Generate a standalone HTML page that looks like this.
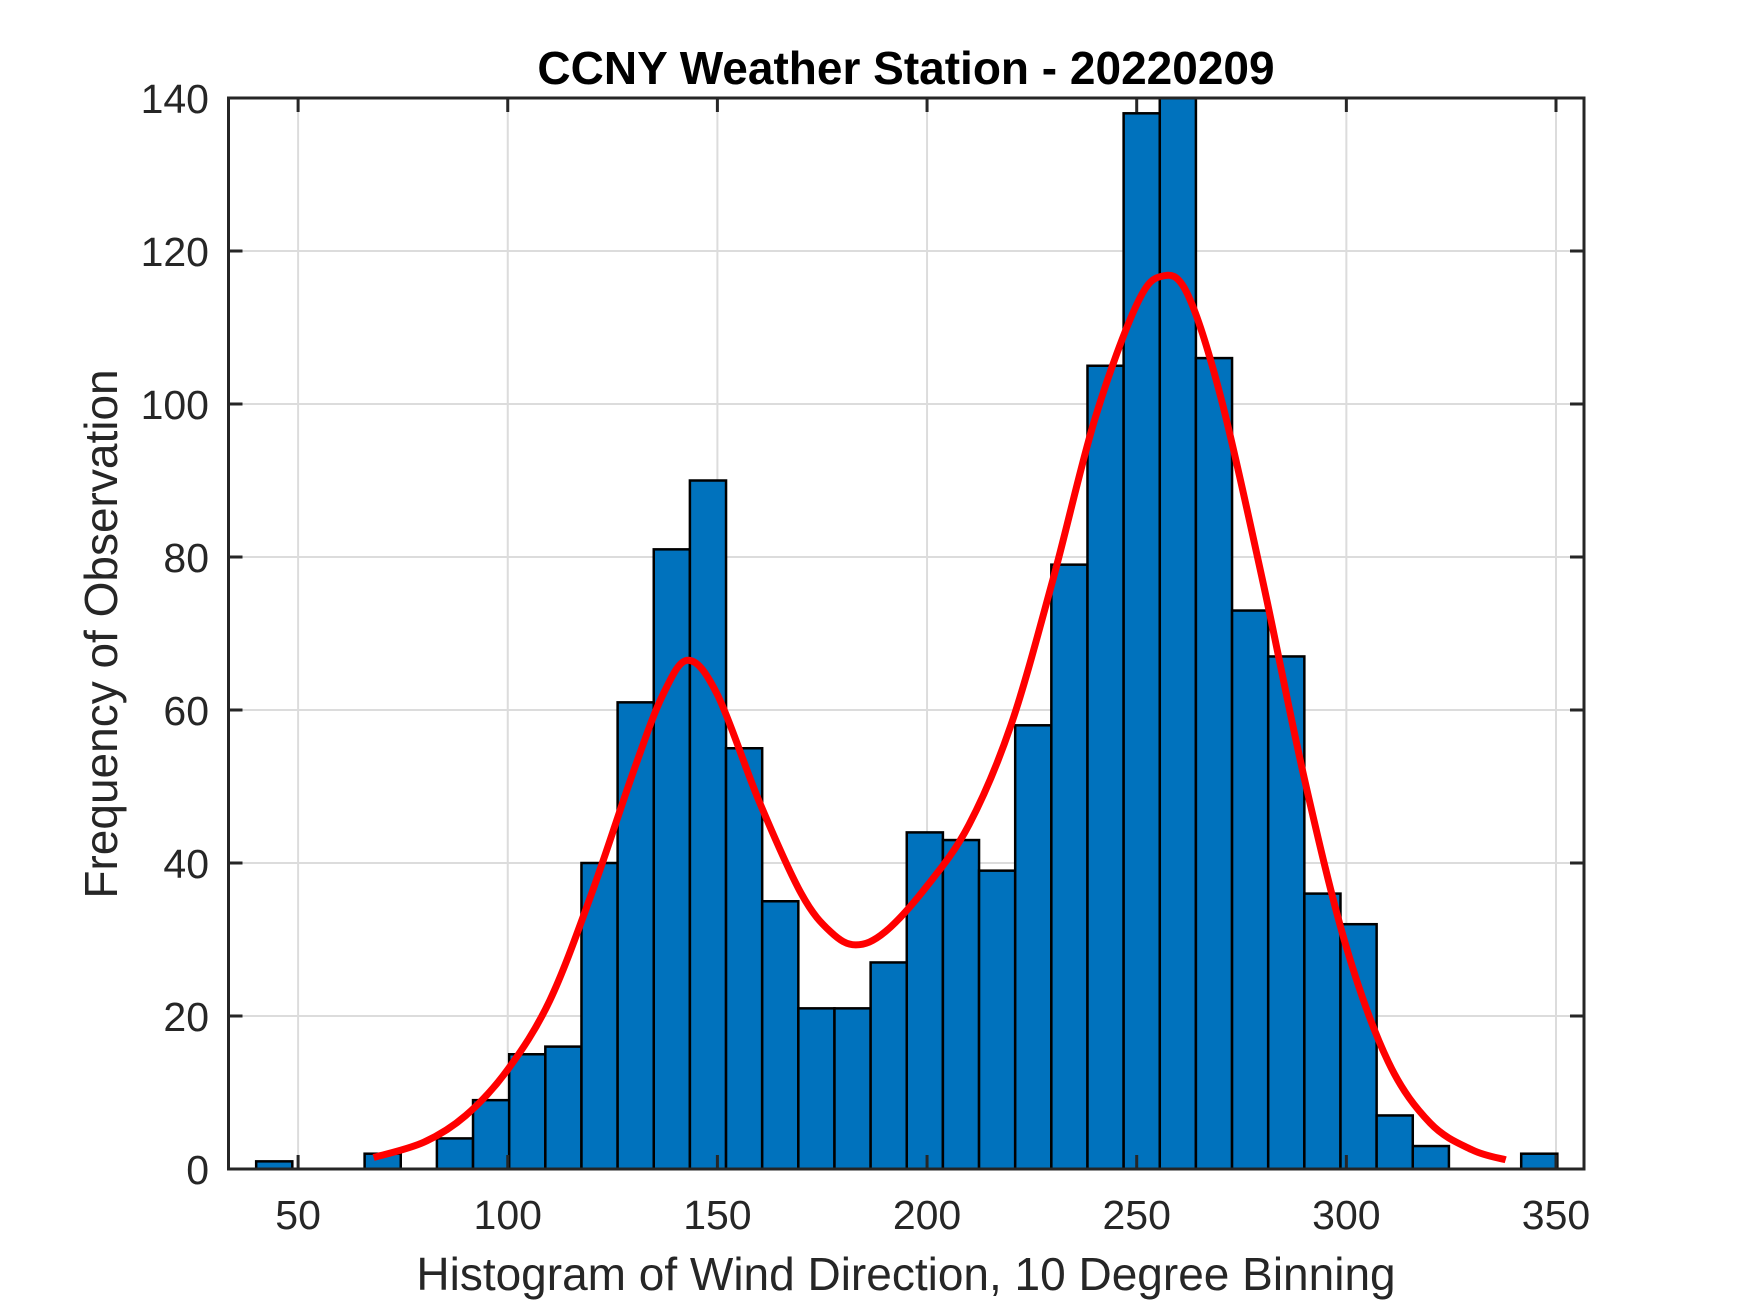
<!DOCTYPE html>
<html><head><meta charset="utf-8"><style>
html,body{margin:0;padding:0;background:#fff;}
svg{display:block;font-family:"Liberation Sans",Arial,sans-serif;}
</style></head><body>
<svg id="chart" width="1750" height="1313" viewBox="0 0 1750 1313" xmlns="http://www.w3.org/2000/svg">
<defs><clipPath id="plotclip"><rect x="228.5" y="98" width="1355.5" height="1071"/></clipPath></defs>
<rect x="0" y="0" width="1750" height="1313" fill="#fff"/>
<g id="grid"></g>
<g id="bars" clip-path="url(#plotclip)"></g>
<g id="curve" clip-path="url(#plotclip)"></g>
<g id="axes"></g>
<text x="906" y="84" text-anchor="middle" font-size="46" font-weight="bold" fill="#000">CCNY Weather Station - 20220209</text>
<text x="906" y="1290" text-anchor="middle" font-size="46" fill="#262626">Histogram of Wind Direction, 10 Degree Binning</text>
<text transform="translate(117,634) rotate(-90)" text-anchor="middle" font-size="46" fill="#262626">Frequency of Observation</text>
</svg>
<script>
const binStart = 40.0;
const binWidth = 8.62;
const binCounts = [1,0,0,2,0,4,9,15,16,40,61,81,90,55,35,21,21,27,44,43,39,58,79,105,138,145,106,73,67,36,32,7,3,0,0,2];
const curveX = [68,80,90,100,110,120,130,137,143,150,160,170,177,183,190,200,210,220,230,240,250,256,262,270,280,290,300,310,320,330,338];
const curveY = [1.5,3.5,7,13,22,36,52,62,66.5,62,48,36,31,29.3,31,37,45,58,77,98,113,116.7,114.5,101,77,51,29,14,6,2.5,1.2];
const xTicks = [50,100,150,200,250,300,350];
const yTicks = [0,20,40,60,80,100,120,140];

const L=228.5, R=1584, T=98, B=1169;
const xMin=33.4, xMax=xMin+(R-L)/4.193, yMin=0, yMax=140;
const sx = v => L + (v-xMin)/(xMax-xMin)*(R-L);
const sy = v => B - (v-yMin)/(yMax-yMin)*(B-T);
const NS='http://www.w3.org/2000/svg';
function mk(tag, attrs, parent){const e=document.createElementNS(NS,tag);for(const k in attrs)e.setAttribute(k,attrs[k]);parent.appendChild(e);return e;}
const grid=document.getElementById('grid'), bars=document.getElementById('bars'), curve=document.getElementById('curve'), axes=document.getElementById('axes');

xTicks.forEach(t=>{
  const l=mk('line',{x1:sx(t),x2:sx(t),y1:T,y2:B,stroke:'#dcdcdc','stroke-width':2},grid);
  
  
});
yTicks.forEach(t=>{
  const l=mk('line',{x1:L,x2:R,y1:sy(t),y2:sy(t),stroke:'#dcdcdc','stroke-width':2},grid);
  
  
});

binCounts.forEach((c,i)=>{
  if(c<=0) return;
  const x0=sx(binStart+i*binWidth), x1=sx(binStart+(i+1)*binWidth);
  const r=mk('rect',{x:x0,y:sy(c),width:x1-x0,height:sy(0)-sy(c),fill:'#0072BD',stroke:'#000','stroke-width':2.5},bars);
  
  
});

const pts=curveX.map((x,i)=>[sx(x),sy(curveY[i])]);
let d='M'+pts[0][0]+','+pts[0][1];
for(let i=0;i<pts.length-1;i++){
  const p0=pts[Math.max(0,i-1)],p1=pts[i],p2=pts[i+1],p3=pts[Math.min(pts.length-1,i+2)];
  const c1=[p1[0]+(p2[0]-p0[0])/6,p1[1]+(p2[1]-p0[1])/6];
  const c2=[p2[0]-(p3[0]-p1[0])/6,p2[1]-(p3[1]-p1[1])/6];
  d+=' C'+c1[0]+','+c1[1]+' '+c2[0]+','+c2[1]+' '+p2[0]+','+p2[1];
}
const cp=mk('path',{d:d,fill:'none',stroke:'#FF0000','stroke-width':7,'stroke-linejoin':'round'},curve);



const box=mk('rect',{x:L,y:T,width:R-L,height:B-T,fill:'none',stroke:'#262626','stroke-width':3},axes);


xTicks.forEach(t=>{
  const x=sx(t);
  mk('line',{x1:x,x2:x,y1:B,y2:B-14,stroke:'#262626','stroke-width':3},axes);
  mk('line',{x1:x,x2:x,y1:T,y2:T+14,stroke:'#262626','stroke-width':3},axes);
  const tx=mk('text',{x:x,y:1229,'text-anchor':'middle','font-size':41,fill:'#262626'},axes);
  tx.textContent=t;
  
  
});
yTicks.forEach(t=>{
  const y=sy(t);
  mk('line',{x1:L,x2:L+14,y1:y,y2:y,stroke:'#262626','stroke-width':3},axes);
  mk('line',{x1:R,x2:R-14,y1:y,y2:y,stroke:'#262626','stroke-width':3},axes);
  const tx=mk('text',{x:209,y:y+15,'text-anchor':'end','font-size':41,fill:'#262626'},axes);
  tx.textContent=t;
  
  
});
</script>
</body></html>
